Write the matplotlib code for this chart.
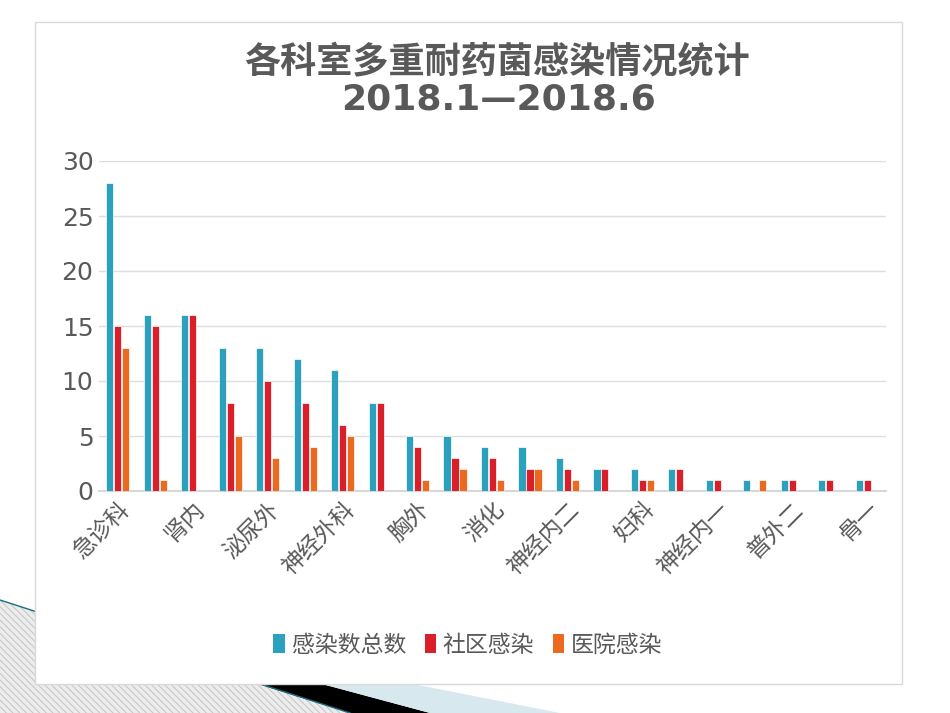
import matplotlib
matplotlib.use("Agg")
import matplotlib.pyplot as plt
import numpy as np
from matplotlib.patches import Polygon, Rectangle, Patch
from matplotlib.lines import Line2D

plt.rcParams['font.family'] = ['DejaVu Sans', 'Noto Sans CJK SC']
plt.rcParams['hatch.linewidth'] = 0.7

# ---- data ----
tick_labels = ["急诊科", "", "肾内", "", "泌尿外", "", "神经外科", "", "胸外", "",
               "消化", "", "神经内二", "", "妇科", "", "神经内一", "", "普外二", "", "骨一"]
series_names = ["感染数总数", "社区感染", "医院感染"]
total = [28, 16, 16, 13, 13, 12, 11, 8, 5, 5, 4, 4, 3, 2, 2, 2, 1, 1, 1, 1, 1]
community = [15, 15, 16, 8, 10, 8, 6, 8, 4, 3, 3, 2, 2, 2, 1, 2, 1, 0, 1, 1, 1]
hospital = [13, 1, 0, 5, 3, 4, 5, 0, 1, 2, 1, 2, 1, 0, 1, 0, 0, 1, 0, 0, 0]
yticks = [0, 5, 10, 15, 20, 25, 30]
title1 = "各科室多重耐药菌感染情况统计"
title2 = "2018.1—2018.6"

colors = ['#2CA1BE', '#DA1F2B', '#EC6A1F']
text_color = '#595959'

W, H = 950, 713
fig = plt.figure(figsize=(9.5, 7.13), dpi=100)

def P(x, y):
    return (x / W, 1 - y / H)

# ---- slide decorations ----
hatch_poly = Polygon([P(0, 600), P(350, 713), P(0, 713)], closed=True,
                     transform=fig.transFigure, facecolor='#ececec', edgecolor='#c4c4c4',
                     hatch='\\\\\\\\\\', linewidth=0, zorder=-5)
fig.add_artist(hatch_poly)
black_poly = Polygon([P(258, 684), P(322, 684), P(430, 713), P(350, 713)], closed=True,
                     transform=fig.transFigure, facecolor='black', edgecolor='none', zorder=-4)
fig.add_artist(black_poly)
blue_poly = Polygon([P(322, 684), P(413, 684), P(560, 713), P(430, 713)], closed=True,
                    transform=fig.transFigure, facecolor='#d7e8ef', edgecolor='none', zorder=-4)
fig.add_artist(blue_poly)
fig.add_artist(Line2D([0, 350 / W], [1 - 600 / H, 0], transform=fig.transFigure,
                      color='#1d6e82', lw=1.0, zorder=-3))

# chart box
fig.add_artist(Rectangle(P(35, 684), 867 / W, 662 / H, transform=fig.transFigure,
                         facecolor='white', edgecolor='#d9d9d9', lw=1.0, zorder=-1))

# ---- axes ----
ax = fig.add_axes([99 / W, 1 - 491 / H, (886 - 99) / W, (491 - 161) / H])
ax.set_facecolor('none')
x = np.arange(len(total))
bw = 0.19
off = 0.213
for i, (vals, c) in enumerate(zip([total, community, hospital], colors)):
    ax.bar(x + (i - 1) * off, vals, width=bw, color=c, edgecolor='white', linewidth=0.5,
           zorder=3, label=series_names[i])

ax.set_xlim(-0.5, len(total) - 0.5)
ax.set_ylim(0, 30)
ax.set_yticks(yticks)
ax.set_yticklabels([str(v) for v in yticks], fontsize=18, color=text_color)
ax.set_xticks(x)
ax.set_xticklabels(tick_labels, rotation=45, ha='right', rotation_mode='anchor',
                   fontsize=16.5, color=text_color)
ax.tick_params(axis='both', length=0)
ax.tick_params(axis='y', pad=4)
ax.tick_params(axis='x', pad=5)
ax.grid(axis='y', color='#dedede', lw=1.0, zorder=0)
for s in ['top', 'right', 'left']:
    ax.spines[s].set_visible(False)
ax.spines['bottom'].set_color('#d0d0d0')
ax.spines['bottom'].set_linewidth(1.2)

# ---- title ----
fig.text(497 / W, 1 - 62 / H, title1, ha='center', va='center', fontsize=26,
         fontweight='bold', color=text_color)
fig.text(498 / W, 1 - 100 / H, title2, ha='center', va='center', fontsize=26,
         fontweight='bold', color=text_color)

# ---- legend ----
handles = [Patch(facecolor=c, edgecolor='none') for c in colors]
leg = fig.legend(handles, series_names, loc='center', bbox_to_anchor=(468 / W, 1 - 645 / H),
                 ncol=3, frameon=False, fontsize=16.5, handlelength=0.5, handleheight=0.9,
                 handletextpad=0.3, columnspacing=0.8)
for t in leg.get_texts():
    t.set_color(text_color)

fig.savefig('out.png', dpi=100)
